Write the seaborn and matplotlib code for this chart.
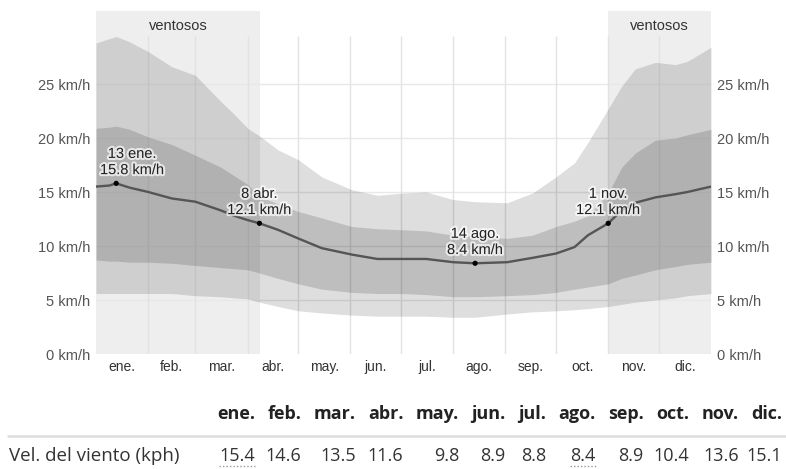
import matplotlib
matplotlib.use("Agg")
import matplotlib.pyplot as plt
import matplotlib.patheffects as pe
from matplotlib.lines import Line2D
import pandas as pd
import seaborn as sns

# Day of year (0 = 1 Jan) and wind-speed percentiles in km/h
day = [0, 8, 12, 20, 31, 45, 59, 74, 82, 90, 97, 108, 120, 134, 152, 167,
       182, 196, 212, 225, 244, 259, 273, 284, 292, 304, 312, 320, 332, 344, 351, 365]
p10 = [5.6, 5.6, 5.6, 5.6, 5.6, 5.6, 5.4, 5.3, 5.2, 5.1, 4.8, 4.4, 4.0, 3.8, 3.6, 3.5,
       3.5, 3.5, 3.4, 3.4, 3.7, 3.9, 4.0, 4.1, 4.2, 4.4, 4.6, 4.8, 5.0, 5.2, 5.4, 5.6]
p25 = [8.7, 8.6, 8.6, 8.5, 8.5, 8.4, 8.2, 8.0, 7.9, 7.8, 7.5, 7.0, 6.5, 6.0, 5.7, 5.6,
       5.6, 5.5, 5.3, 5.3, 5.4, 5.5, 5.7, 6.0, 6.2, 6.5, 7.0, 7.3, 7.8, 8.1, 8.3, 8.5]
median = [15.5, 15.6, 15.8, 15.4, 15.0, 14.4, 14.1, 13.3, 12.8, 12.4, 12.1, 11.5, 10.7, 9.8, 9.2, 8.8,
          8.8, 8.8, 8.5, 8.4, 8.5, 8.9, 9.3, 9.9, 11.0, 12.1, 13.3, 14.0, 14.5, 14.8, 15.0, 15.5]
p75 = [20.9, 21.0, 21.1, 20.8, 20.1, 19.4, 18.4, 17.3, 16.5, 15.7, 14.6, 13.9, 13.2, 12.6, 11.8, 11.6,
       11.5, 11.4, 11.0, 10.9, 10.7, 11.0, 11.8, 12.3, 12.8, 14.9, 17.3, 18.6, 19.8, 20.0, 20.3, 20.8]
p90 = [28.8, 29.2, 29.4, 28.9, 28.0, 26.6, 25.8, 23.4, 22.2, 20.9, 20.2, 18.9, 18.0, 16.4, 15.2, 14.7,
       14.9, 15.0, 14.3, 14.1, 14.0, 14.9, 16.4, 17.7, 19.6, 22.7, 24.8, 26.4, 27.0, 26.8, 27.1, 28.4]

month_labels = ["ene.", "feb.", "mar.", "abr.", "may.", "jun.",
                "jul.", "ago.", "sep.", "oct.", "nov.", "dic."]
month_starts = [0, 31, 59, 90, 120, 151, 181, 212, 243, 273, 304, 334, 365]
windy_spans = [(0, 97.3), (304, 365)]

# Highlighted days: (day, speed, label)
marks_day = [12, 97, 225, 304]
marks_speed = [15.8, 12.1, 8.4, 12.1]
marks_label = ["13 ene.", "8 abr.", "14 ago.", "1 nov."]
marks_dx = [11.5, 0, 0, 0]

monthly_avg = [15.4, 14.6, 13.5, 11.6, 9.8, 8.9, 8.8, 8.4, 8.9, 10.4, 13.6, 15.1]
table_row_label = "Vel. del viento (kph)"

sns.set_theme(style="white")
plt.rcParams["font.family"] = ["Liberation Sans", "DejaVu Sans"]
table_font = ["Open Sans", "DejaVu Sans"]

W, H = 786, 469
fig = plt.figure(figsize=(W / 100, H / 100), dpi=100)
ax_l, ax_r, ax_b, ax_t = 96, 711, 354, 11
ax = fig.add_axes([ax_l / W, 1 - ax_b / H, (ax_r - ax_l) / W, (ax_b - ax_t) / H])
ymax = (ax_b - ax_t) / 10.8
ax.set_xlim(0, 365)
ax.set_ylim(0, ymax)
grid_top = (ax_b - 36) / 10.8

for a, b in windy_spans:
    ax.axvspan(a, b, color="#eeeeee", lw=0, zorder=0)
    ax.text((a + b) / 2, (ax_b - 26) / 10.8, "ventosos", ha="center", va="center",
            fontsize=10.5, color="#333333", zorder=5)

ax.hlines([5, 10, 15, 20, 25], 0, 365, color="#e8e8e8", lw=1, zorder=1)
ax.vlines(month_starts[1:-1], 0, grid_top, color="#e2e2e2", lw=1, zorder=1)

ax.fill_between(day, p10, p90, color="black", alpha=0.13, lw=0, zorder=2)
ax.fill_between(day, p25, p75, color="black", alpha=0.14, lw=0, zorder=2)

df = pd.DataFrame({"day": day, "median": median})
sns.lineplot(data=df, x="day", y="median", ax=ax, color="#555555", lw=1.7, zorder=3)

pts = pd.DataFrame({"day": marks_day, "speed": marks_speed})
sns.scatterplot(data=pts, x="day", y="speed", ax=ax, color="black", s=14,
                edgecolor="none", zorder=4)
halo = [pe.withStroke(linewidth=3, foreground="white", alpha=0.7)]
for d, v, lab, dx in zip(marks_day, marks_speed, marks_label, marks_dx):
    ax.annotate(f"{lab}\n{v:.1f} km/h", (d, v), xytext=(dx, 4.5),
                textcoords="offset points", ha="center", va="bottom",
                fontsize=10.5, color="#222222", path_effects=halo, zorder=6)

ax.set_xlabel("")
ax.set_ylabel("")
mids = [(month_starts[i] + month_starts[i + 1]) / 2 for i in range(12)]
ax.set_xticks(mids)
ax.set_xticklabels(month_labels, fontsize=10, color="#333333")
yt = [0, 5, 10, 15, 20, 25]
ax.set_yticks(yt)
ax.set_yticklabels([f"{v} km/h" for v in yt], fontsize=10.5, color="#555555")
ax.tick_params(axis="y", length=0, pad=4, labelleft=True, labelright=True)
ax.tick_params(axis="x", length=0, pad=4)
for s in ax.spines.values():
    s.set_visible(False)

# Monthly summary table: bold month header spread evenly, values right-aligned under it
renderer = fig.canvas.get_renderer()
head_kw = dict(fontsize=13, fontweight="bold", color="#222222", family=table_font)
val_kw = dict(fontsize=13, color="#333333", family=table_font)
head_y = 1 - 414 / H
val_y = 1 - 456 / H
widths = []
for lab in month_labels:
    t = fig.text(0, 0, lab, **head_kw)
    widths.append(t.get_window_extent(renderer).width)
    t.remove()
x0, x1 = 217, 782
gap = (x1 - x0 - sum(widths)) / (len(month_labels) - 1)
rights = []
x = x0
for lab, w in zip(month_labels, widths):
    fig.text(x / W, head_y, lab, ha="left", va="center", **head_kw)
    rights.append(x + w)
    x += w + gap

fig.add_artist(Line2D([8 / W, 1], [1 - 436 / H, 1 - 436 / H], color="#dddddd", lw=1.8))
fig.text(9 / W, val_y, table_row_label, ha="left", va="center", fontsize=13.5,
         color="#333333", family=table_font)
hi = monthly_avg.index(max(monthly_avg))
lo = monthly_avg.index(min(monthly_avg))
for i, (r, v) in enumerate(zip(rights, monthly_avg)):
    t = fig.text(r / W, val_y, f"{v:.1f}", ha="right", va="center", **val_kw)
    if i in (hi, lo):
        w = t.get_window_extent(renderer).width
        fig.add_artist(Line2D([(r - w) / W, r / W], [1 - 466 / H, 1 - 466 / H],
                              color="#999999", lw=1, ls=(0, (1, 1.5))))

fig.savefig("out.png", dpi=100)
